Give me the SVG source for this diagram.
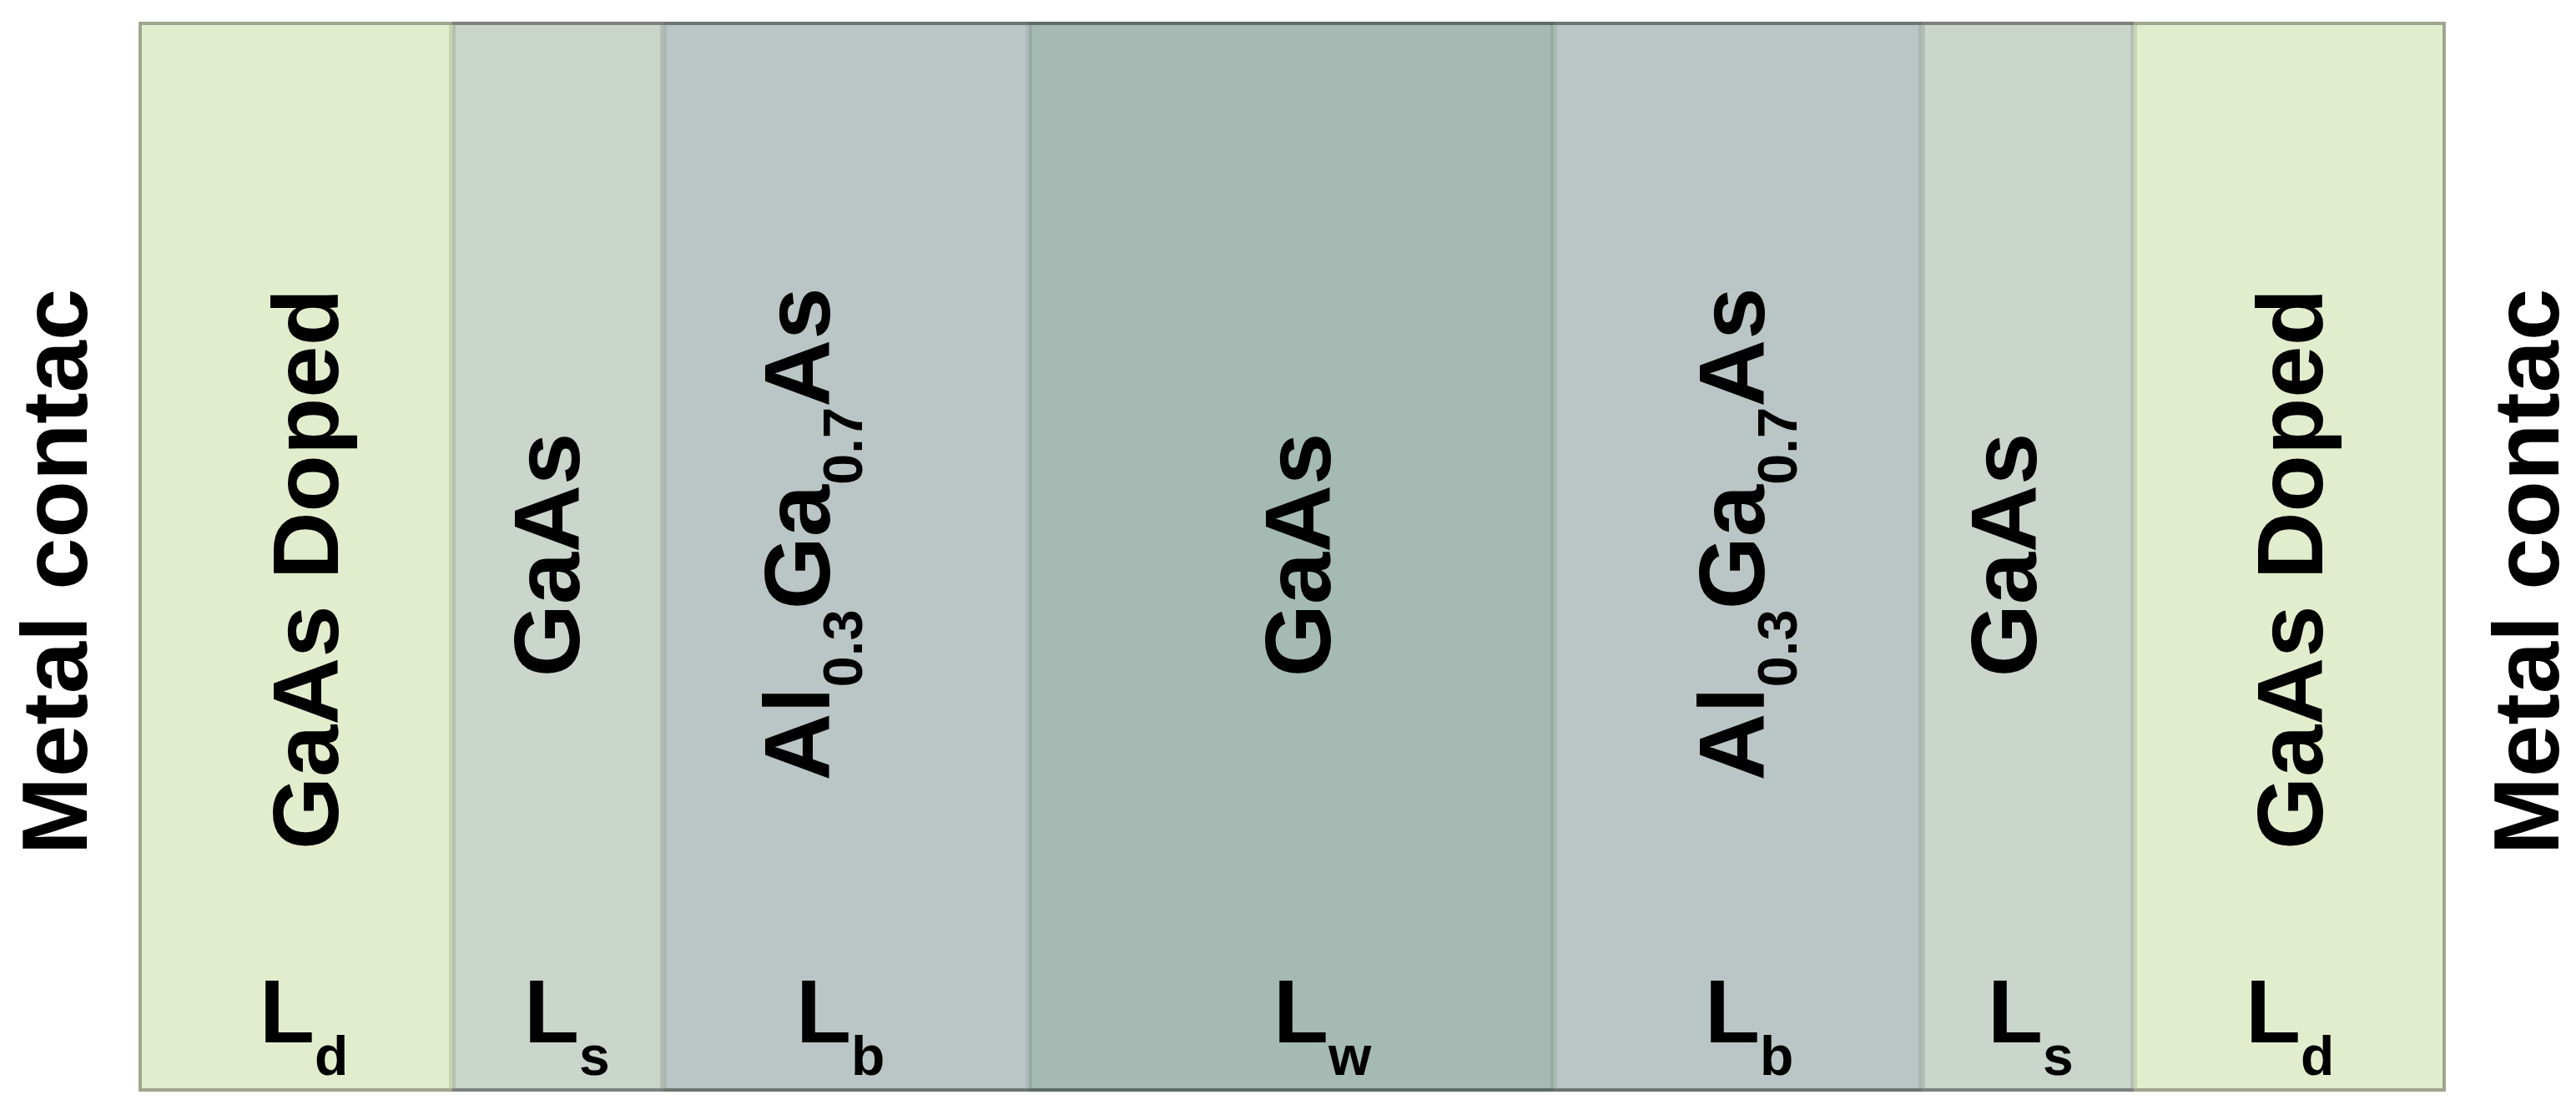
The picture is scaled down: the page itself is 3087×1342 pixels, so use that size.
<svg xmlns="http://www.w3.org/2000/svg" width="3087" height="1342" viewBox="0 0 3087 1342">
<style>
text{font-family:"Liberation Sans",Arial,sans-serif;font-weight:bold;fill:#000}
.v{font-size:112px;text-anchor:middle}
.sub{font-size:67px}
.lab{font-size:108px}
.lsub{font-size:66px}
</style>
<rect x="0" y="0" width="3087" height="1342" fill="#ffffff"/>
<g id="layers">
  <g id="layer-doped-left">
    <rect x="166" y="26" width="376" height="1282" fill="#9fa58e"/>
    <rect x="170" y="30" width="372" height="1274" fill="#e2edce"/>
    <rect x="538" y="30" width="4" height="1274" fill="#c9d4b2"/>
  </g>
  <g id="layer-spacer-left">
    <rect x="542" y="26" width="253" height="1282" fill="#7b827d"/>
    <rect x="542" y="30" width="253" height="1274" fill="#cad5cc"/>
    <rect x="542" y="30" width="4" height="1274" fill="#b6c0b4"/>
    <rect x="791" y="30" width="4" height="1274" fill="#b2bdb4"/>
  </g>
  <g id="layer-barrier-left">
    <rect x="795" y="26" width="438" height="1282" fill="#6b7571"/>
    <rect x="795" y="30" width="438" height="1274" fill="#bac6c6"/>
    <rect x="795" y="30" width="4" height="1274" fill="#abb6b4"/>
    <rect x="1229" y="30" width="4" height="1274" fill="#adb8b8"/>
  </g>
  <g id="layer-well">
    <rect x="1233" y="26" width="629" height="1282" fill="#5e6b66"/>
    <rect x="1233" y="30" width="629" height="1274" fill="#a4bab2"/>
    <rect x="1233" y="30" width="4" height="1274" fill="#97aba4"/>
    <rect x="1858" y="30" width="4" height="1274" fill="#97aba4"/>
  </g>
  <g id="layer-barrier-right">
    <rect x="1862" y="26" width="441" height="1282" fill="#6b7571"/>
    <rect x="1862" y="30" width="441" height="1274" fill="#bac6c6"/>
    <rect x="1862" y="30" width="4" height="1274" fill="#adb8b8"/>
    <rect x="2299" y="30" width="4" height="1274" fill="#abb6b4"/>
  </g>
  <g id="layer-spacer-right">
    <rect x="2303" y="26" width="254" height="1282" fill="#7b827d"/>
    <rect x="2303" y="30" width="254" height="1274" fill="#cad5cc"/>
    <rect x="2303" y="30" width="4" height="1274" fill="#b2bdb4"/>
    <rect x="2553" y="30" width="4" height="1274" fill="#b6c0b4"/>
  </g>
  <g id="layer-doped-right">
    <rect x="2557" y="26" width="374" height="1282" fill="#9fa58e"/>
    <rect x="2557" y="30" width="370" height="1274" fill="#e2edce"/>
    <rect x="2557" y="30" width="4" height="1274" fill="#c9d4b2"/>
  </g>
</g>
<g id="layer-labels">
  <text class="v" transform="translate(104,685) rotate(-90)">Metal contac</text>
  <text class="v" transform="translate(405,682) rotate(-90)">GaAs Doped</text>
  <text class="v" transform="translate(694,665) rotate(-90)">GaAs</text>
  <text class="v" transform="translate(994,640) rotate(-90)">Al<tspan class="sub" dy="39">0.3</tspan><tspan dy="-39">Ga</tspan><tspan class="sub" dy="39">0.7</tspan><tspan dy="-39">As</tspan></text>
  <text class="v" transform="translate(1594,665) rotate(-90)">GaAs</text>
  <text class="v" transform="translate(2114,640) rotate(-90)">Al<tspan class="sub" dy="39">0.3</tspan><tspan dy="-39">Ga</tspan><tspan class="sub" dy="39">0.7</tspan><tspan dy="-39">As</tspan></text>
  <text class="v" transform="translate(2440,665) rotate(-90)">GaAs</text>
  <text class="v" transform="translate(2783,682) rotate(-90)">GaAs Doped</text>
  <text class="v" transform="translate(3066,685) rotate(-90)">Metal contac</text>
</g>
<g id="thickness-labels">
  <text class="lab" x="311" y="1249">L<tspan class="lsub" dy="39">d</tspan></text>
  <text class="lab" x="628" y="1249">L<tspan class="lsub" dy="39">s</tspan></text>
  <text class="lab" x="954" y="1249">L<tspan class="lsub" dy="39">b</tspan></text>
  <text class="lab" x="1526" y="1249">L<tspan class="lsub" dy="39">w</tspan></text>
  <text class="lab" x="2043" y="1249">L<tspan class="lsub" dy="39">b</tspan></text>
  <text class="lab" x="2382" y="1249">L<tspan class="lsub" dy="39">s</tspan></text>
  <text class="lab" x="2691" y="1249">L<tspan class="lsub" dy="39">d</tspan></text>
</g>
<g id="connectors"></g>
</svg>
